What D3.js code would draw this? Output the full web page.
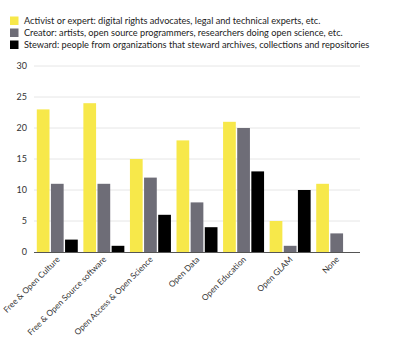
<!DOCTYPE html>
<html><head><meta charset="utf-8">
<script src="https://cdn.jsdelivr.net/npm/d3@7"></script>
<style>body{margin:0;background:#fff}svg{display:block;font-family:Lato,"Open Sans",sans-serif}</style>
</head><body>
<script>
const categories = ["Free & Open Culture","Free & Open Source software","Open Access & Open Science","Open Data","Open Education","Open GLAM","None"];
const seriesNames = [
  "Activist or expert: digital rights advocates, legal and technical experts, etc.",
  "Creator: artists, open source programmers, researchers doing open science, etc.",
  "Steward: people from organizations that steward archives, collections and repositories"
];
const activist = [23,24,15,18,21,5,11];
const creator  = [11,11,12,8,20,1,3];
const steward  = [2,1,6,4,13,10,0];
const colors = ["#f7e84a","#6e6d77","#000000"];
const yTicks = [0,5,10,15,20,25,30];

const W=400,H=344;
const svg=d3.select("body").append("svg").attr("width",W).attr("height",H);
const x0=d3.scaleBand().domain(categories).range([34,360]).paddingInner(0.12).paddingOuter(0.06);
const keys=[0,1,2];
const x1=d3.scaleBand().domain(keys).range([0,x0.bandwidth()]).paddingInner(0.1);
const y=d3.scaleLinear().domain([0,30]).range([252,66]);
const series=[activist,creator,steward];

// grid
svg.append("g").selectAll("line").data(yTicks.slice(1)).join("line")
  .attr("x1",34).attr("x2",360).attr("y1",d=>y(d)).attr("y2",d=>y(d))
  .attr("stroke","#e6e6e6").attr("stroke-width",1);
// y labels
svg.append("g").selectAll("text").data(yTicks).join("text")
  .attr("x",27).attr("y",d=>y(d)).attr("dy","0.35em").attr("text-anchor","end")
  .attr("font-size",9).attr("fill","#333").text(d=>d);
// bars
const g=svg.append("g").selectAll("g").data(categories).join("g")
  .attr("transform",d=>`translate(${x0(d)},0)`);
g.selectAll("rect").data((d,i)=>keys.map(k=>({k,v:series[k][i]}))).join("rect")
  .attr("x",d=>x1(d.k)).attr("width",x1.bandwidth())
  .attr("y",d=>y(d.v)).attr("height",d=>y(0)-y(d.v)).attr("fill",d=>colors[d.k]);
// axis baseline
svg.append("line").attr("x1",34).attr("x2",360).attr("y1",252.5).attr("y2",252.5).attr("stroke","#555").attr("stroke-width",1.2);
// x labels
svg.append("g").selectAll("text").data(categories).join("text")
  .attr("transform",d=>`translate(${x0(d)+x0.bandwidth()/2+3},${260}) rotate(-45)`)
  .attr("text-anchor","end").attr("font-size",8.3).attr("fill","#333").text(d=>d);
// legend
const lg=svg.append("g").selectAll("g").data(seriesNames).join("g")
  .attr("transform",(d,i)=>`translate(10,${21+i*12})`);
lg.append("rect").attr("x",0).attr("y",-4.5).attr("width",8.5).attr("height",8.5).attr("fill",(d,i)=>colors[i]);
lg.append("text").attr("x",14).attr("y",0).attr("dy","0.35em").attr("font-size",9.2).attr("fill","#222").text(d=>d);
</script>
</body></html>
